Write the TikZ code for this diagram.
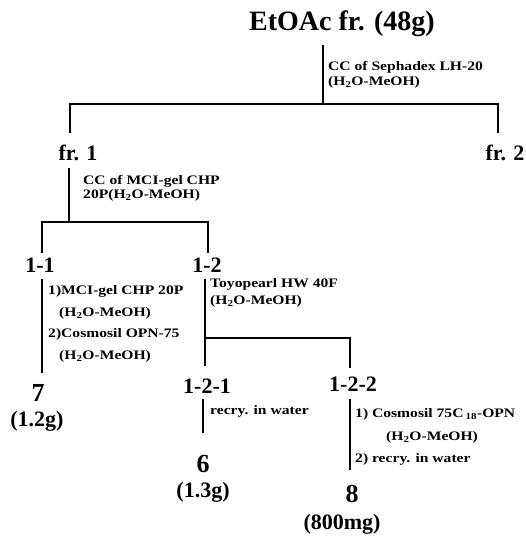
\documentclass[tikz,border=0pt]{standalone}
\usepackage{fontspec}
\setmainfont{Liberation Serif}
\newfontfamily\labfont[FakeStretch=1.2]{Liberation Serif}

\tikzset{
    tree/.style={line width=1.4pt},
    big/.style={inner sep=0pt,font=\fontsize{22}{24}\selectfont\bfseries},
    compound/.style={inner sep=0pt,font=\fontsize{26}{28}\selectfont\bfseries},
    cond/.style={inner sep=0pt,anchor=west,align=left}
}

\begin{document}
\begin{tikzpicture}[x=1pt,y=-1pt]
    \useasboundingbox (0,0) rectangle (526,536);

    % Fractions
    \node[inner sep=0pt,font=\fontsize{28}{30}\selectfont\bfseries] (etoac) at (342,24) {EtOAc fr. (48g)};
    \node[big] (fr1) at (78,153) {fr. 1};
    \node[big] (fr2) at (505,153) {fr. 2};
    \node[big] (n11) at (40,265) {1-1};
    \node[big] (n12) at (207,265) {1-2};
    \node[big] (n121) at (207,386) {1-2-1};
    \node[big] (n122) at (353,384) {1-2-2};

    % Compounds and yields
    \node[compound] (c7) at (38,393) {7};
    \node[big] (y7) at (37,421) {(1.2g)};
    \node[compound] (c6) at (203,464) {6};
    \node[big] (y6) at (203,492) {(1.3g)};
    \node[compound] (c8) at (352,494) {8};
    \node[big] (y8) at (342,524) {(800mg)};

    % Coordinates of the branch points
    \coordinate (s0) at (323,45);
    \coordinate (b0) at (323,104);
    \coordinate (t1) at (70,133);
    \coordinate (t2) at (498,133);
    \coordinate (s1) at (69,168);
    \coordinate (b1) at (69,222);
    \coordinate (t11) at (42,253);
    \coordinate (t12) at (208,253);
    \coordinate (s11) at (42,279);
    \coordinate (e11) at (42,373);
    \coordinate (s12) at (205,279);
    \coordinate (b12) at (205,338);
    \coordinate (e121) at (205,366);
    \coordinate (e122) at (350,368);
    \coordinate (s121) at (203,399);
    \coordinate (e6) at (203,433);
    \coordinate (s122) at (350,399);
    \coordinate (e8) at (350,470);

    % The tree
    \draw[tree] (s0) -- (b0);
    \draw[tree] (t1) |- (b0) -| (t2);
    \draw[tree] (s1) -- (b1);
    \draw[tree] (t11) |- (b1) -| (t12);
    \draw[tree] (s11) -- (e11);
    \draw[tree] (s12) -- (e121);
    \draw[tree] (b12) -| (e122);
    \draw[tree] (s121) -- (e6);
    \draw[tree] (s122) -- (e8);

    % The conditions
    \node[cond,font=\labfont\fontsize{13}{15}\selectfont\bfseries] (cc0) at (328,74.5)
        {CC of Sephadex LH-20\\(H\textsubscript{2}O-MeOH)};
    \node[cond,font=\labfont\fontsize{13}{14}\selectfont\bfseries] (cc1) at (83,188.5)
        {CC of MCI-gel CHP\\20P(H\textsubscript{2}O-MeOH)};
    \node[cond,font=\labfont\fontsize{13}{21.5}\selectfont\bfseries] (cc11) at (48,324)
        {1)MCI-gel CHP 20P\\\hspace*{11pt}(H\textsubscript{2}O-MeOH)\\2)Cosmosil OPN-75\\\hspace*{11pt}(H\textsubscript{2}O-MeOH)};
    \node[cond,font=\labfont\fontsize{13}{17}\selectfont\bfseries] (cc12) at (210,292.5)
        {Toyopearl HW 40F\\(H\textsubscript{2}O-MeOH)};
    \node[cond,font=\labfont\fontsize{13}{15}\selectfont\bfseries] (cc121) at (210,411)
        {recry. in water};
    \node[cond,font=\labfont\fontsize{13}{22.5}\selectfont\bfseries] (cc122) at (355,437)
        {1) Cosmosil 75C\,\textsubscript{18}-OPN\\\hspace*{31pt}(H\textsubscript{2}O-MeOH)\\2) recry. in water};
\end{tikzpicture}
\end{document}
